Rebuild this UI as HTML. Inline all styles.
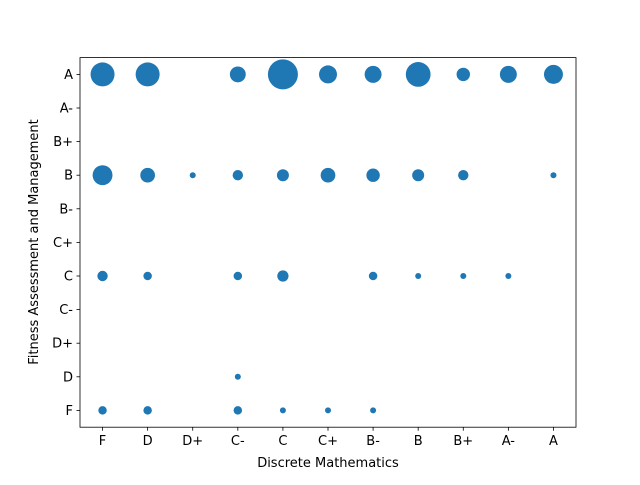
<!DOCTYPE html>
<html><head><meta charset="utf-8"><style>
body{margin:0;background:#fff;}
svg text{font-family:"DejaVu Sans","Liberation Sans",sans-serif;font-size:13px;fill:#000;}
</style></head><body>
<svg id="chart" width="640" height="480" xmlns="http://www.w3.org/2000/svg">
<rect width="640" height="480" fill="#fff"/>
<g id="marks"></g>
<rect x="80" y="57.6" width="496" height="369.6" fill="none" stroke="#000" stroke-width="0.8"/>
<g id="xticks"></g><g id="yticks"></g>
<text x="328" y="467" text-anchor="middle">Discrete Mathematics</text>
<text transform="translate(38,242) rotate(-90)" text-anchor="middle">Fitness Assessment and Management</text>
</svg>
<script>
const grades = ["F","D","D+","C-","C","C+","B-","B","B+","A-","A"];
const pointX = ["F","D","C-","C","C+","B-","B","B+","A-","A", "F","D","D+","C-","C","C+","B-","B","B+","A", "F","D","C-","C","B-","B","B+","A-", "C-", "F","D","C-","C","C+","B-"];
const pointY = ["A","A","A","A","A","A","A","A","A","A", "B","B","B","B","B","B","B","B","B","B", "C","C","C","C","C","C","C","C", "D", "F","F","F","F","F","F"];
const counts = [16,16,7,25,9,8,17,5,8,10, 11,6,1,3,4,6,5,4,3,1, 3,2,2,3.5,2,1,1,1, 1, 2,2,2,1,1,1];
const NS="http://www.w3.org/2000/svg";
const L=80,R=576,T=57.6,B=427.2;
function xs(g){const i=grades.indexOf(g);return L+(i+0.5)*(R-L)/grades.length;}
function ys(g){const i=grades.indexOf(g);return B-(i+0.5)*(B-T)/grades.length;}
function rs(c){return 3*Math.sqrt(c);}
const marks=document.getElementById('marks');
for(let i=0;i<counts.length;i++){
 const c=document.createElementNS(NS,'circle');
 c.setAttribute('cx',xs(pointX[i]));c.setAttribute('cy',ys(pointY[i]));c.setAttribute('r',rs(counts[i]));
 c.setAttribute('fill','#1f77b4');
 
 
 marks.appendChild(c);
}
const xt=document.getElementById('xticks'),yt=document.getElementById('yticks');
grades.forEach(g=>{
 const x=xs(g);
 const l=document.createElementNS(NS,'line');
 l.setAttribute('x1',x);l.setAttribute('x2',x);l.setAttribute('y1',B);l.setAttribute('y2',B+3.5);l.setAttribute('stroke','#000');l.setAttribute('stroke-width','0.8');
 
 
 xt.appendChild(l);
 const t=document.createElementNS(NS,'text');
 t.setAttribute('x',x);t.setAttribute('y',B+18);t.setAttribute('text-anchor','middle');t.textContent=g;
 
 
 xt.appendChild(t);
 const y=ys(g);
 const l2=document.createElementNS(NS,'line');
 l2.setAttribute('x1',L-3.5);l2.setAttribute('x2',L);l2.setAttribute('y1',y);l2.setAttribute('y2',y);l2.setAttribute('stroke','#000');l2.setAttribute('stroke-width','0.8');
 
 
 yt.appendChild(l2);
 const t2=document.createElementNS(NS,'text');
 t2.setAttribute('x',L-7);t2.setAttribute('y',y+4.5);t2.setAttribute('text-anchor','end');t2.textContent=g;
 
 
 yt.appendChild(t2);
});
</script>
</body></html>
